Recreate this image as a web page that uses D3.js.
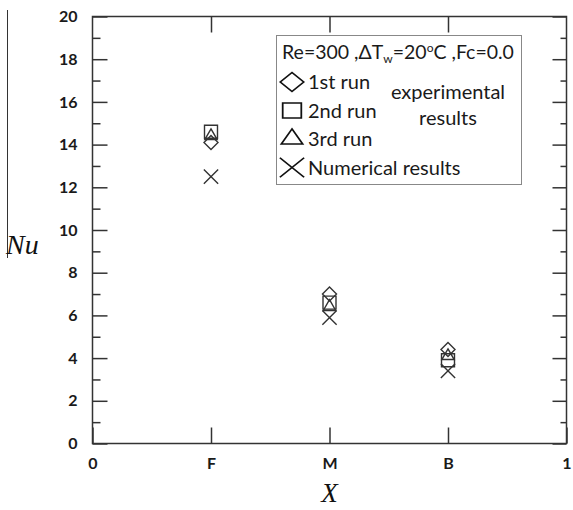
<!DOCTYPE html>
<html>
<head>
<meta charset="utf-8">
<script src="https://cdn.jsdelivr.net/npm/d3@7"></script>
<style>
  body { margin: 0; background: #fff; }
  svg { display: block; }
  text { font-family: Lato, "Open Sans", sans-serif; fill: #1a1a1a; }
</style>
</head>
<body>
<svg width="573" height="510"></svg>
<script>

// data
var categories = ["F", "M", "B"];
var xPos = [0.25, 0.5, 0.75];
var run1 = [14.1, 7.0, 4.4];
var run2 = [14.6, 6.6, 3.9];
var run3 = [14.4, 6.4, 4.1];
var numerical = [12.5, 5.9, 3.4];
var yTicks = [0, 2, 4, 6, 8, 10, 12, 14, 16, 18, 20];
var yMinor = [1, 3, 5, 7, 9, 11, 13, 15, 17, 19];

var svg = d3.select("svg");

var x = d3.scaleLinear().domain([0, 1]).range([92.5, 566.5]);
var y = d3.scaleLinear().domain([0, 20]).range([443.5, 16.5]);

var ink = "#333";

// frame
svg.append("rect")
    .attr("x", x(0)).attr("y", y(20))
    .attr("width", x(1) - x(0)).attr("height", y(0) - y(20))
    .attr("fill", "none").attr("stroke", ink).attr("stroke-width", 1.5);

function styleAxis(g) {
    g.select(".domain").remove();
    g.selectAll(".tick line").attr("stroke", ink).attr("stroke-width", 1.5);
}

// y axis, ticks pointing inward
var yAxis = svg.append("g")
    .attr("transform", "translate(" + x(0) + ",0)")
    .call(d3.axisLeft(y).tickValues(yTicks).tickSize(-15).tickPadding(15))
    .call(styleAxis);
yAxis.selectAll("text")
    .attr("font-size", 16).attr("font-weight", "bold").attr("fill", "#3a3a3a");

svg.append("g")
    .attr("transform", "translate(" + x(0) + ",0)")
    .call(d3.axisLeft(y).tickValues(yMinor).tickSize(-8).tickFormat(""))
    .call(styleAxis);

svg.append("g")
    .attr("transform", "translate(" + x(1) + ",0)")
    .call(d3.axisRight(y).tickValues(yTicks).tickSize(-14).tickFormat(""))
    .call(styleAxis);
svg.append("g")
    .attr("transform", "translate(" + x(1) + ",0)")
    .call(d3.axisRight(y).tickValues(yMinor).tickSize(-6).tickFormat(""))
    .call(styleAxis);

// x axis
var xLabels = ["0"].concat(categories).concat(["1"]);
var xAxis = svg.append("g")
    .attr("transform", "translate(0," + y(0) + ")")
    .call(d3.axisBottom(x).tickValues([0].concat(xPos).concat([1])).tickSize(-16).tickPadding(14)
        .tickFormat(function(d, i) { return xLabels[i]; }))
    .call(styleAxis);
xAxis.selectAll("text")
    .attr("font-size", 16).attr("font-weight", "bold").attr("fill", "#3a3a3a");

svg.append("g")
    .attr("transform", "translate(0," + y(20) + ")")
    .call(d3.axisTop(x).tickValues(xPos).tickSize(-16).tickFormat(""))
    .call(styleAxis);

// axis titles
svg.append("line")
    .attr("x1", 7.5).attr("x2", 7.5).attr("y1", 10).attr("y2", 258)
    .attr("stroke", ink).attr("stroke-width", 1);
svg.append("text")
    .attr("x", 6).attr("y", 254)
    .style("font-family", "'Liberation Serif', 'DejaVu Serif', serif")
    .style("font-style", "italic")
    .attr("font-size", 28).style("fill", "#111")
    .text("Nu");
svg.append("text")
    .attr("x", x(0.5)).attr("y", 502)
    .attr("text-anchor", "middle")
    .style("font-family", "'Liberation Serif', 'DejaVu Serif', serif")
    .style("font-style", "italic")
    .attr("font-size", 27).style("fill", "#111")
    .text("X");

// markers
var series = [
    {values: run1, shape: d3.symbolDiamond2, size: 125},
    {values: run2, shape: d3.symbolSquare2, size: 215},
    {values: run3, shape: d3.symbolTriangle2, size: 110},
    {values: numerical, shape: d3.symbolTimes, size: 135}
];

series.forEach(function(s) {
    svg.append("g").selectAll("path")
        .data(s.values)
        .enter().append("path")
        .attr("transform", function(d, i) { return "translate(" + x(xPos[i]) + "," + y(d) + ")"; })
        .attr("d", d3.symbol().type(s.shape).size(s.size))
        .attr("fill", "none")
        .attr("stroke", ink)
        .attr("stroke-width", 1.4);
});

// legend
var leg = svg.append("g");
leg.append("rect")
    .attr("x", 276.5).attr("y", 35.5).attr("width", 245).attr("height", 149)
    .attr("fill", "#fff").attr("stroke", "#888").attr("stroke-width", 1);

var head = leg.append("text").attr("x", 282).attr("y", 59).attr("font-size", 19.5);
head.append("tspan").text("Re=300 ,\u0394T");
head.append("tspan").attr("font-size", 12).attr("dy", 4).text("w");
head.append("tspan").attr("dy", -4).text("=20");
head.append("tspan").attr("font-size", 12).attr("dy", -7).text("o");
head.append("tspan").attr("dy", 7).text("C ,Fc=0.0");

var legItems = ["1st run", "2nd run", "3rd run", "Numerical results"];
var legShapes = [d3.symbolDiamond2, d3.symbolSquare2, d3.symbolTriangle2, d3.symbolTimes];
var legSizes = [320, 400, 300, 350];

legItems.forEach(function(t, i) {
    var cy = 82 + i * 28.5;
    leg.append("path")
        .attr("transform", "translate(292," + cy + ") scale(1.05,0.85)")
        .attr("d", d3.symbol().type(legShapes[i]).size(legSizes[i]))
        .attr("fill", "none").attr("stroke", "#111").attr("stroke-width", 1.7);
    leg.append("text")
        .attr("x", 308).attr("y", cy + 7)
        .attr("font-size", 20)
        .text(t);
});

leg.append("text").attr("x", 448).attr("y", 99).attr("text-anchor", "middle")
    .attr("font-size", 20).text("experimental");
leg.append("text").attr("x", 448).attr("y", 125).attr("text-anchor", "middle")
    .attr("font-size", 20).text("results");

</script>
</body>
</html>
